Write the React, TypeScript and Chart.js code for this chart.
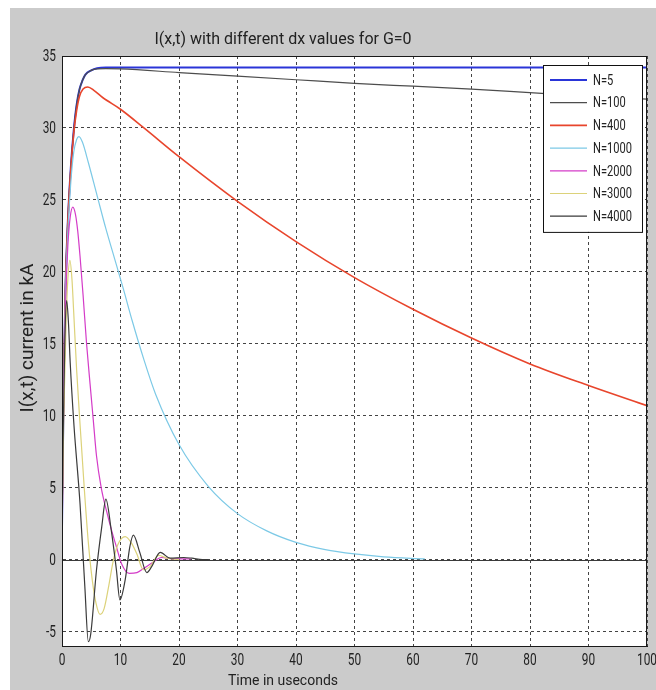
import React, { useEffect, useRef } from 'react';
import { Chart, registerables } from 'chart.js';

Chart.register(...registerables);

const MAIN = "Roboto, 'Liberation Sans', sans-serif";

const titleText = 'I(x,t) with different dx values for G=0';
const xTitle = 'Time in useconds';
const yTitle = 'I(x,t) current in kA';

const xTickValues = [0, 10, 20, 30, 40, 50, 60, 70, 80, 90, 100];
const yTickValues = [-5, 0, 5, 10, 15, 20, 25, 30, 35];

const seriesLabels = ['N=5', 'N=100', 'N=400', 'N=1000', 'N=2000', 'N=3000', 'N=4000'];
const seriesColors = ['#2a35d8', '#4d4d4d', '#e8452c', '#7cc9e6', '#d43cc8', '#dcd27a', '#3a3a3a'];
const seriesWidths = [2, 1.2, 1.6, 1.2, 1.2, 1.2, 1.2];

const tN5 = [0, 0.3, 0.6, 1.0, 1.5, 2.0, 2.5, 3.0, 3.5, 4.0, 5.0, 6.0, 7.5, 10, 100];
const iN5 = [2.2, 12.5, 19, 23.5, 27.2, 29.8, 31.6, 32.7, 33.3, 33.7, 34.0, 34.15, 34.2, 34.2, 34.2];

const tN100 = [0, 0.3, 0.6, 1, 1.5, 2, 2.5, 3, 3.5, 4, 5, 6, 7.5, 10, 20, 30, 40, 50, 60, 70, 82, 100];
const iN100 = [2.2, 12.5, 19, 23.5, 27.2, 29.8, 31.6, 32.7, 33.3, 33.7, 34.0, 34.1, 34.12, 34.1, 33.85, 33.6, 33.35, 33.1, 32.9, 32.7, 32.4, 32.0];

const tN400 = [0, 0.3, 0.6, 1, 1.5, 2, 2.5, 3, 3.6, 4.4, 5.5, 7, 10, 14, 20, 30, 40, 50, 60, 70, 80, 90, 100];
const iN400 = [2.2, 12.5, 19, 23.5, 27.1, 29.6, 31.2, 32.2, 32.7, 32.85, 32.6, 32.1, 31.3, 30.0, 28.0, 24.9, 22.1, 19.6, 17.4, 15.4, 13.6, 12.1, 10.7];

const tN1000 = [0, 0.3, 0.6, 1, 1.5, 2, 2.5, 2.9, 3.5, 4.5, 6, 7.5, 9, 10.5, 12, 14, 16, 20, 25, 30, 35, 40, 45, 50, 55, 62];
const iN1000 = [2.2, 12, 18.5, 22.8, 26.2, 28.3, 29.2, 29.4, 29.0, 27.6, 25.3, 23.0, 20.9, 18.8, 16.6, 13.9, 11.5, 8.0, 5.1, 3.2, 2.0, 1.2, 0.7, 0.4, 0.2, 0.05];

const tN2000 = [0, 0.3, 0.6, 1, 1.4, 1.85, 2.3, 2.7, 3.1, 3.6, 4.2, 4.8, 5.35, 5.9, 6.7, 7.6, 8.5, 9.3, 10.2, 11.5, 12.8, 14, 15.5, 17, 19, 22];
const iN2000 = [2.2, 11.5, 17.5, 21.8, 23.8, 24.5, 24.0, 22.8, 21.0, 18.4, 15.0, 12.2, 9.7, 7.2, 5.0, 3.4, 2.0, 0.9, -0.3, -0.95, -0.9, -0.6, -0.2, 0.15, 0.05, 0.05];

const tN3000 = [0, 0.3, 0.7, 1.0, 1.35, 1.7, 2.0, 2.5, 3.1, 3.8, 4.5, 5.2, 5.8, 6.5, 7.2, 8.0, 8.7, 9.5, 10.8, 11.8, 12.8, 13.9, 15, 16.5, 18, 20];
const iN3000 = [2.2, 10, 16.5, 19.5, 20.8, 19.5, 17.2, 13.2, 9.3, 5.0, 1.2, -1.5, -3.0, -3.8, -3.4, -1.8, -0.2, 1.0, 1.6, 1.2, 0.4, -0.7, -0.5, 0.3, 0.1, 0];

const tN4000 = [0, 0.25, 0.5, 0.8, 1.1, 1.4, 2.05, 3.08, 3.9, 4.5, 4.9, 5.9, 6.8, 7.5, 8.4, 9.3, 9.9, 10.8, 11.6, 12.2, 13.3, 14.5, 15.3, 16.8, 18.5, 20.8, 22.2, 24, 25];
const iN4000 = [2.2, 10, 15.5, 18.0, 16.5, 13.7, 9.3, 3.9, -1.85, -5.7, -5.2, -0.7, 2.3, 4.2, 2.1, -0.7, -2.8, -1.4, 0.9, 1.7, 0.5, -0.9, -0.5, 0.5, 0.1, 0.15, 0.1, 0, 0];

const seriesT = [tN5, tN100, tN400, tN1000, tN2000, tN3000, tN4000];
const seriesI = [iN5, iN100, iN400, iN1000, iN2000, iN3000, iN4000];

const xMin = 0;
const xMax = 100;
const yMin = -6;
const yMax = 35;

const NARROW_X = 0.74;

const backgroundPlugin = {
  id: 'figBackground',
  beforeDraw(chart: any) {
    const { ctx, width, height, chartArea: a } = chart;
    ctx.save();
    ctx.fillStyle = '#ffffff';
    ctx.fillRect(0, 0, width, height);
    ctx.fillStyle = '#cbcbcb';
    ctx.fillRect(10, 8, width - 10, height - 8);
    ctx.fillStyle = '#ffffff';
    ctx.fillRect(a.left, a.top, a.right - a.left, a.bottom - a.top);
    ctx.restore();
  },
};

const zeroLinePlugin = {
  id: 'zeroLine',
  beforeDatasetsDraw(chart: any) {
    const { ctx, chartArea: a, scales } = chart;
    const y = Math.round(scales.y.getPixelForValue(0)) + 0.5;
    ctx.save();
    ctx.strokeStyle = '#3a3a3a';
    ctx.lineWidth = 1;
    ctx.beginPath();
    ctx.moveTo(a.left, y);
    ctx.lineTo(a.right, y);
    ctx.stroke();
    ctx.restore();
  },
};

function narrowText(ctx: any, text: string, x: number, y: number, align: string) {
  ctx.save();
  ctx.translate(x, y);
  ctx.scale(NARROW_X, 1);
  ctx.textAlign = align;
  ctx.fillText(text, 0, 0);
  ctx.restore();
}

const decorPlugin = {
  id: 'decor',
  afterDatasetsDraw(chart: any) {
    const { ctx, chartArea: a, scales } = chart;
    ctx.save();
    // frame
    ctx.strokeStyle = '#1a1a1a';
    ctx.lineWidth = 1;
    ctx.strokeRect(a.left + 0.5, a.top + 0.5, a.right - a.left - 1, a.bottom - a.top);

    // tick labels (from the library's scales)
    ctx.fillStyle = '#222';
    ctx.font = `16px ${MAIN}`;
    ctx.textBaseline = 'middle';
    scales.y.ticks.forEach((t: any) => {
      const py = scales.y.getPixelForValue(t.value);
      narrowText(ctx, String(t.value), a.left - 6, py + 1, 'right');
    });
    ctx.textBaseline = 'top';
    scales.x.ticks.forEach((t: any) => {
      const px = scales.x.getPixelForValue(t.value);
      narrowText(ctx, String(t.value), px, a.bottom + 7, 'center');
    });

    // legend
    const bx = a.right - 104;
    const by = a.top + 9;
    const bw = 99;
    const rowH = 22.7;
    const n = chart.data.datasets.length;
    const bh = rowH * n + 8;
    ctx.fillStyle = '#ffffff';
    ctx.fillRect(bx, by, bw, bh);
    ctx.strokeStyle = '#111';
    ctx.lineWidth = 1;
    ctx.strokeRect(bx + 0.5, by + 0.5, bw, bh);
    ctx.font = `15px ${MAIN}`;
    ctx.textBaseline = 'middle';
    chart.data.datasets.forEach((ds: any, i: number) => {
      const cy = by + 15 + i * rowH;
      ctx.strokeStyle = ds.borderColor;
      ctx.lineWidth = ds.borderWidth;
      ctx.beginPath();
      ctx.moveTo(bx + 7, cy);
      ctx.lineTo(bx + 44, cy);
      ctx.stroke();
      ctx.fillStyle = '#222';
      narrowText(ctx, ds.label, bx + 50, cy + 1, 'left');
    });

    // titles
    ctx.fillStyle = '#222';
    ctx.textAlign = 'center';
    ctx.textBaseline = 'middle';
    ctx.font = `16px ${MAIN}`;
    ctx.fillText(titleText, 283, 40);
    ctx.font = `14px ${MAIN}`;
    ctx.fillText(xTitle, 283, 681);
    ctx.save();
    ctx.translate(28, 338);
    ctx.rotate(-Math.PI / 2);
    ctx.font = `19px ${MAIN}`;
    ctx.fillText(yTitle, 0, 0);
    ctx.restore();
    ctx.restore();
  },
};

export default function App() {
  const canvasRef = useRef<HTMLCanvasElement | null>(null);

  useEffect(() => {
    const canvas = canvasRef.current;
    if (!canvas) return;
    const datasets = seriesLabels.map((label, k) => ({
      label,
      data: seriesT[k].map((t, j) => ({ x: t, y: seriesI[k][j] })),
      borderColor: seriesColors[k],
      backgroundColor: seriesColors[k],
      borderWidth: seriesWidths[k],
      pointRadius: 0,
      fill: false,
      cubicInterpolationMode: 'monotone' as const,
      order: seriesLabels.length - k,
    }));

    const chart = new Chart(canvas, {
      type: 'line',
      data: { datasets },
      options: {
        animation: false,
        responsive: false,
        devicePixelRatio: 1,
        layout: { padding: { top: 56, right: 9, left: 0, bottom: 0 } },
        plugins: {
          legend: { display: false },
          title: { display: false },
          tooltip: { enabled: false },
        },
        scales: {
          x: {
            type: 'linear',
            min: xMin,
            max: xMax,
            ticks: { display: false },
            afterBuildTicks(scale: any) {
              scale.ticks = xTickValues.map((v) => ({ value: v }));
            },
            grid: { color: '#444', lineWidth: 1, drawTicks: false },
            border: { display: true, color: '#1a1a1a', width: 1, dash: [3, 3] },
            afterFit(scale: any) {
              scale.height = 44;
            },
          },
          y: {
            type: 'linear',
            min: yMin,
            max: yMax,
            ticks: { display: false },
            afterBuildTicks(scale: any) {
              scale.ticks = yTickValues.map((v) => ({ value: v }));
            },
            grid: { color: '#444', lineWidth: 1, drawTicks: false },
            border: { display: true, color: '#1a1a1a', width: 1, dash: [3, 3] },
            afterFit(scale: any) {
              scale.width = 62;
            },
          },
        },
      },
      plugins: [backgroundPlugin, zeroLinePlugin, decorPlugin],
    });
    return () => chart.destroy();
  }, []);

  return (
    <div style={{ position: 'absolute', left: 0, top: 0, width: 656, height: 690 }}>
      <canvas ref={canvasRef} width={656} height={690} style={{ display: 'block', width: 656, height: 690 }} />
    </div>
  );
}
